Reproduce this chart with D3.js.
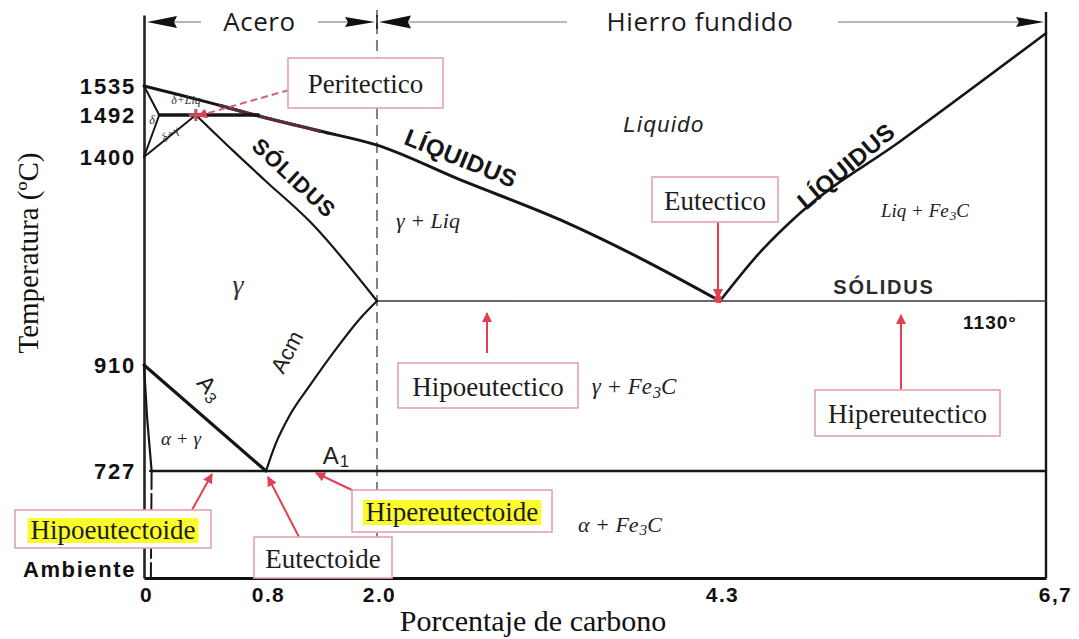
<!DOCTYPE html>
<html>
<head>
<meta charset="utf-8">
<script src="https://cdn.jsdelivr.net/npm/d3@7"></script>
<style>
  body { margin: 0; background: #fff; }
  svg { display: block; }
</style>
</head>
<body>
<svg id="chart" width="1079" height="639"></svg>
<script>
// ---- Axis ticks ----
const carbonTicks = [0, 0.8, 2.0, 4.3, 6.7];
const carbonTickLabels = ["0", "0.8", "2.0", "4.3", "6,7"];
const tempTicks = [25, 727, 910, 1400, 1492, 1535];
const tempTickLabels = ["Ambiente", "727", "910", "1400", "1492", "1535"];

// ---- Phase boundaries, [carbon %, temperature °C] ----
const liquidusLeft = [[0, 1535], [0.25, 1521], [0.5, 1506], [0.75, 1490], [1.38, 1457],
                      [2.0, 1426], [2.56, 1357], [3.23, 1282], [3.76, 1211], [4.3, 1130]];
const liquidusRight = [[4.3, 1130], [4.59, 1220], [4.89, 1295], [5.63, 1435], [6.7, 1613]];
const solidus = [[0.34, 1492], [0.58, 1415], [0.79, 1357], [1.28, 1278], [2.0, 1130]];
const peritecticLine = [[0.1, 1492], [0.75, 1492]];
const deltaSolvus = [[0, 1535], [0.1, 1492], [0, 1400]];
const deltaGamma = [[0, 1400], [0.34, 1492]];
const eutecticLine = [[2.0, 1130], [6.7, 1130]];
const acmLine = [[0.8, 727], [0.9, 772], [1.06, 824], [1.28, 876], [1.55, 962], [1.82, 1071], [2.0, 1130]];
const a3Line = [[0, 910], [0.8, 727]];
const eutectoidLine = [[0.04, 727], [6.7, 727]];
const ferriteSolvusHigh = [[0, 910], [0.02, 820], [0.05, 727]];
const ferriteSolvusLow = [[0.05, 727], [0.045, 25]];

// ---- Key points ----
const peritecticPoint = [0.34, 1492];
const eutecticPoint = [4.3, 1130];
const eutectoidPoint = [0.8, 727];
const steelLimit = 2.0;

// ---- Scales (piecewise, as the diagram is not drawn to a uniform scale) ----
const x = d3.scaleLinear().domain(carbonTicks).range([144, 266, 377, 720, 1046]);
const y = d3.scaleLinear()
  .domain([25, 727, 910, 1130, 1400, 1492, 1535, 1640])
  .range([578, 471, 365, 301, 157, 115, 86, 15]);

const svg = d3.select("#chart");
const INK = "#161616";
const RED = "#e0404f";
const PINK = "#e3a3ad";

svg.append("defs").append("marker")
  .attr("id", "redArrow")
  .attr("viewBox", "0 0 10 10")
  .attr("refX", 9).attr("refY", 5)
  .attr("markerUnits", "userSpaceOnUse")
  .attr("markerWidth", 10).attr("markerHeight", 10)
  .attr("orient", "auto")
  .append("path").attr("d", "M0,0L10,5L0,10z").attr("fill", RED);

// ---- Axes ----
const yAxis = svg.append("g")
  .attr("transform", `translate(${x(0)},0)`)
  .call(d3.axisLeft(y).tickValues(tempTicks).tickFormat((d, i) => tempTickLabels[i])
    .tickSize(0).tickSizeOuter(0).tickPadding(8));
yAxis.select(".domain").attr("stroke", "#2a2026").attr("stroke-width", 2.6);
yAxis.selectAll("text")
  .attr("font-family", "Liberation Sans, Arial, sans-serif")
  .attr("font-weight", "bold").attr("font-size", 22)
  .attr("letter-spacing", (d) => d === 25 ? 1.6 : 1.8).attr("fill", "#111")
  .attr("dy", (d) => d === 25 ? "-0.05em" : "0.32em");

const xAxis = svg.append("g")
  .attr("transform", `translate(0,${y(25)})`)
  .call(d3.axisBottom(x).tickValues(carbonTicks).tickFormat((d, i) => carbonTickLabels[i])
    .tickSize(0).tickSizeOuter(0).tickPadding(9));
xAxis.select(".domain").attr("stroke", "#111").attr("stroke-width", 3);
xAxis.selectAll("text")
  .attr("font-family", "Liberation Sans, Arial, sans-serif")
  .attr("font-size", 21).attr("letter-spacing", 1.4).attr("fill", "#111")
  .attr("font-weight", "bold")
  .attr("dx", (d) => d === 6.7 ? 9 : 2);

// right border
svg.append("line")
  .attr("x1", x(6.7)).attr("x2", x(6.7))
  .attr("y1", y(25)).attr("y2", 12)
  .attr("stroke", INK).attr("stroke-width", 2.4);

// dashed steel / cast iron limit
svg.append("line")
  .attr("x1", x(steelLimit)).attr("x2", x(steelLimit))
  .attr("y1", y(25)).attr("y2", 10)
  .attr("stroke", "#6d5c72").attr("stroke-width", 1.6)
  .attr("stroke-dasharray", "11,6");

// ---- Phase boundaries ----
const smooth = d3.line().x((d) => x(d[0])).y((d) => y(d[1])).curve(d3.curveMonotoneX);
const straight = d3.line().x((d) => x(d[0])).y((d) => y(d[1]));

function boundary(data, gen, width, color = INK, dash = null) {
  svg.append("path")
    .attr("d", gen(data))
    .attr("fill", "none")
    .attr("stroke", color)
    .attr("stroke-width", width)
    .attr("stroke-linejoin", "round")
    .attr("stroke-linecap", "round")
    .attr("stroke-dasharray", dash);
}

boundary(eutecticLine, straight, 1.6, "#3a3340");
boundary(eutectoidLine, straight, 2.3);
boundary(liquidusLeft, smooth, 3);
boundary(liquidusLeft.filter((d) => d[0] >= 0.5 && d[0] <= 1.38), smooth, 3.4, "#5a2a40");
boundary(liquidusRight, smooth, 2.6);
boundary(solidus, smooth, 2.2);
boundary(peritecticLine, straight, 3.4);
boundary(deltaSolvus, straight, 2);
boundary(deltaGamma, straight, 2);
boundary(acmLine, smooth, 2.2);
boundary(a3Line, straight, 3.2);
boundary(ferriteSolvusHigh, straight, 2.2);
boundary(ferriteSolvusLow, straight, 2, INK, "18,5");

// ---- Steel / cast iron ranges across the top ----
const topY = 22;
const rangeLine = "#b39aa9";
function seg(x1, x2) {
  svg.append("line").attr("x1", x1).attr("x2", x2).attr("y1", topY).attr("y2", topY)
    .attr("stroke", rangeLine).attr("stroke-width", 1.6);
}
function head(tip, dir, len = 30, half = 6) {
  const b = tip + dir * len;
  svg.append("path")
    .attr("d", `M${tip},${topY}L${b},${topY - half}L${b - dir * 3},${topY}L${b},${topY + half}Z`)
    .attr("fill", "#111");
}
const x0 = x(0), x2 = x(steelLimit), x67 = x(6.7);
seg(x0 + 28, 201); seg(318, x2 - 28);
head(x0 + 3, 1); head(x2 - 2, -1, 30, 5); head(x2 + 2, 1, 32, 6.5);
seg(x2 + 32, 567); seg(838, x67 - 26);
head(x67 - 2, -1, 28, 5);
svg.append("line").attr("x1", x2).attr("x2", x2).attr("y1", topY - 7).attr("y2", topY + 7)
  .attr("stroke", "#111").attr("stroke-width", 1.5);

const sans = "Open Sans, DejaVu Sans, sans-serif";
svg.append("text").attr("x", (x0 + x2) / 2 - 1).attr("y", topY + 9)
  .attr("text-anchor", "middle").attr("font-family", sans).attr("font-size", 26)
  .attr("fill", "#1a1a1a").attr("letter-spacing", 0.5).text("Acero");
svg.append("text").attr("x", 700).attr("y", topY + 9)
  .attr("text-anchor", "middle").attr("font-family", sans).attr("font-size", 26)
  .attr("fill", "#1a1a1a").attr("letter-spacing", 0.6).text("Hierro fundido");

// ---- Axis titles ----
const serif = "Liberation Serif, Times New Roman, serif";
svg.append("text").attr("x", 533).attr("y", 631)
  .attr("text-anchor", "middle").attr("font-family", serif).attr("font-size", 30)
  .attr("fill", "#111").text("Porcentaje de carbono");
svg.append("text").attr("transform", "translate(38,253) rotate(-90)")
  .attr("text-anchor", "middle").attr("font-family", serif).attr("font-size", 29)
  .attr("fill", "#111").text("Temperatura (ºC)");

// ---- Boundary names and phase fields ----
const bold = "Liberation Sans, Arial, sans-serif";
function label(txt, px, py, opts = {}) {
  const t = svg.append("text")
    .attr("transform", `translate(${px},${py}) rotate(${opts.rot || 0})`)
    .attr("text-anchor", opts.anchor || "middle")
    .attr("dominant-baseline", "central")
    .attr("font-family", opts.family || bold)
    .attr("font-size", opts.size || 22)
    .attr("font-weight", opts.weight || "normal")
    .attr("font-style", opts.style || "normal")
    .attr("letter-spacing", opts.spacing || 0)
    .attr("fill", opts.color || "#151515");
  if (Array.isArray(txt)) {
    txt.forEach(([s, sub], i) => {
      const ts = t.append("tspan").text(s);
      if (sub) ts.attr("font-size", (opts.size || 22) * 0.7).attr("dy", "0.35em").attr("dx", 1);
      else if (i > 0) ts.attr("dy", "-0.25em");
    });
  } else t.text(txt);
  return t;
}

label("LÍQUIDUS", 461, 158, { rot: 22, size: 24, weight: "bold", spacing: 0.5 });
label("LÍQUIDUS", 846, 166, { rot: -40, size: 24, weight: "bold", spacing: 0.5 });
label("SÓLIDUS", 294, 178, { rot: 43, size: 22, weight: "bold", spacing: 1 });
label("SÓLIDUS", 884, 287, { size: 20, weight: "bold", spacing: 1.8, color: "#2a2a2a" });
label("1130°", 990, 322, { size: 19, weight: "bold", spacing: 1 });

label("Liquido", 664, 124, { size: 22, style: "italic", spacing: 1.5, color: "#222" });
label("γ + Liq", 428, 220, { family: serif, size: 22, style: "italic", color: "#222" });
label("γ", 238, 284, { family: serif, size: 28, style: "italic", color: "#333" });
label([["γ + Fe", false], ["3", true], ["C", false]], 634, 386, { family: serif, size: 23, style: "italic", color: "#222" });
label([["α + Fe", false], ["3", true], ["C", false]], 620, 524, { family: serif, size: 22, style: "italic", color: "#222" });
label([["Liq + Fe", false], ["3", true], ["C", false]], 925, 210, { family: serif, size: 19, style: "italic", color: "#222" });
label("α + γ", 181, 438, { family: serif, size: 19, style: "italic", color: "#222" });
label("δ+Liq", 186, 100, { family: serif, size: 12, style: "italic", color: "#333" });
label("δ", 152, 120, { family: serif, size: 12, style: "italic", color: "#333" });
label("δ+γ", 170, 134, { rot: -35, family: serif, size: 12, style: "italic", color: "#333" });
label([["A", false], ["3", true]], 210, 388, { rot: 50, size: 23, color: "#222" });
label("Acm", 287, 352, { rot: -62, size: 22, color: "#222" });
label([["A", false], ["1", true]], 336, 455, { size: 24, color: "#222" });

// ---- Callouts ----
const callouts = [
  { text: "Peritectico", box: [288, 58, 155, 50], from: [289, 90], to: [x(peritecticPoint[0]) + 2, y(peritecticPoint[1]) + 1], dashed: true },
  { text: "Eutectico", box: [652, 177, 126, 45], from: [718, 222], to: [x(eutecticPoint[0]) - 2, y(eutecticPoint[1]) - 3] },
  { text: "Hipoeutectico", box: [398, 363, 180, 45], from: [487, 353], to: [487, y(eutecticPoint[1]) + 12] },
  { text: "Hipereutectico", box: [815, 390, 185, 46], from: [901, 390], to: [901, y(eutecticPoint[1]) + 14] },
  { text: "Hipoeutectoide", box: [15, 510, 196, 38], from: [192, 510], to: [212, y(eutectoidPoint[1]) + 3], highlight: true },
  { text: "Eutectoide", box: [254, 537, 138, 41], from: [299, 537], to: [x(eutectoidPoint[0]) + 2, y(eutectoidPoint[1]) + 6] },
  { text: "Hipereutectoide", box: [352, 490, 200, 42], from: [352, 490], to: [316, y(eutectoidPoint[1]) + 2], highlight: true }
];

// red markers at the invariant points
svg.append("circle").attr("cx", x(eutecticPoint[0]) - 2).attr("cy", y(eutecticPoint[1]) - 2)
  .attr("r", 4).attr("fill", RED);
svg.append("path")
  .attr("d", `M${x(peritecticPoint[0]) - 7},${y(peritecticPoint[1])}h14M${x(peritecticPoint[0])},${y(peritecticPoint[1]) - 6}v12`)
  .attr("stroke", "#c0505c").attr("stroke-width", 3);

callouts.forEach((c) => {
  svg.append("line")
    .attr("x1", c.from[0]).attr("y1", c.from[1])
    .attr("x2", c.to[0]).attr("y2", c.to[1])
    .attr("stroke", c.dashed ? "#d06474" : RED)
    .attr("stroke-width", 2)
    .attr("stroke-dasharray", c.dashed ? "7,4" : null)
    .attr("marker-end", "url(#redArrow)");
});

callouts.forEach((c) => {
  const [bx, by, bw, bh] = c.box;
  svg.append("rect").attr("x", bx).attr("y", by).attr("width", bw).attr("height", bh)
    .attr("fill", "#fff").attr("stroke", PINK).attr("stroke-width", 1.6);
  const tx = bx + bw / 2, ty = by + bh / 2 + 1;
  const t = svg.append("text").attr("x", tx).attr("y", ty)
    .attr("text-anchor", "middle").attr("dominant-baseline", "central")
    .attr("font-family", serif).attr("font-size", 27).attr("fill", "#1c1c1c")
    .text(c.text);
  if (c.highlight) {
    const bb = t.node().getBBox();
    svg.insert("rect", () => t.node())
      .attr("x", bb.x - 3).attr("y", bb.y + 3).attr("width", bb.width + 6).attr("height", bb.height - 5)
      .attr("fill", "#fbfb2c");
  }
});
</script>
</body>
</html>
